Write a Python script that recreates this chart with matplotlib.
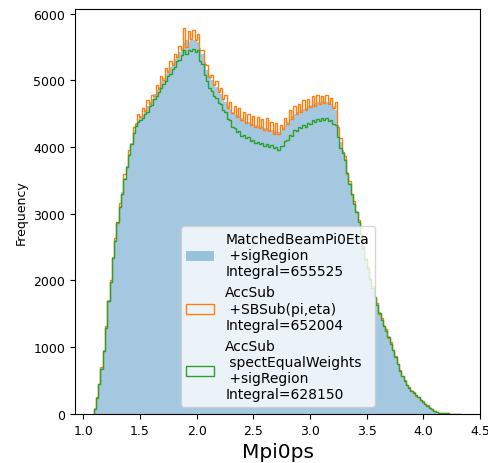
import matplotlib
matplotlib.use('Agg')
import matplotlib.pyplot as plt
import numpy as np

# bin range of the Mpi0ps histograms
x_lo = 1.09
x_hi = 4.33
n_bins = 160

matched = [80, 240, 450, 680, 950, 1300, 1700, 1980, 2350, 2600,
           2880, 3120, 3320, 3540, 3720, 3900, 4060, 4240, 4360, 4420,
           4470, 4500, 4560, 4620, 4680, 4720, 4790, 4850, 4900, 4990,
           5040, 5100, 5160, 5200, 5260, 5320, 5380, 5430, 5480, 5560,
           5600, 5580, 5640, 5600, 5620, 5580, 5480, 5400, 5280, 5150,
           5080, 5000, 4950, 4900, 4850, 4800, 4740, 4680, 4620, 4570,
           4530, 4500, 4480, 4460, 4430, 4410, 4390, 4380, 4360, 4340,
           4330, 4320, 4310, 4300, 4290, 4280, 4270, 4260, 4250, 4240,
           4230, 4250, 4290, 4330, 4380, 4420, 4460, 4500, 4520, 4540,
           4560, 4570, 4590, 4610, 4630, 4650, 4660, 4670, 4680, 4690,
           4690, 4680, 4670, 4650, 4610, 4560, 4330, 4080, 3960, 3820,
           3620, 3460, 3300, 3160, 3040, 2880, 2700, 2500, 2330, 2180,
           2030, 1890, 1760, 1640, 1520, 1420, 1330, 1250, 1160, 1060,
           960, 850, 750, 650, 570, 500, 440, 390, 350, 310,
           280, 250, 215, 180, 150, 120, 95, 70, 45, 25,
           15, 10, 8, 6, 5, 4, 3, 3, 2, 2]

acc_sb = [70, 250, 440, 700, 940, 1320, 1690, 2010, 2330, 2630,
          2860, 3160, 3300, 3590, 3700, 3960, 4040, 4300, 4340, 4500,
          4450, 4580, 4540, 4700, 4650, 4780, 4760, 4930, 4870, 5070,
          5010, 5180, 5130, 5290, 5230, 5400, 5350, 5510, 5450, 5780,
          5500, 5740, 5620, 5760, 5600, 5700, 5460, 5460, 5250, 5230,
          5050, 5080, 4930, 4990, 4830, 4880, 4720, 4780, 4590, 4670,
          4510, 4610, 4450, 4580, 4400, 4520, 4360, 4500, 4330, 4470,
          4300, 4450, 4280, 4420, 4260, 4430, 4240, 4380, 4200, 4360,
          4190, 4330, 4270, 4440, 4350, 4560, 4420, 4620, 4490, 4640,
          4530, 4700, 4560, 4720, 4600, 4760, 4620, 4780, 4650, 4760,
          4660, 4780, 4640, 4740, 4590, 4680, 4300, 4140, 3930, 3870,
          3600, 3490, 3280, 3190, 3020, 2910, 2680, 2520, 2310, 2200,
          2010, 1910, 1740, 1660, 1500, 1440, 1310, 1270, 1140, 1080,
          950, 860, 740, 660, 560, 510, 430, 400, 340, 320,
          270, 255, 210, 185, 145, 125, 90, 72, 43, 27,
          14, 11, 7, 6, 5, 4, 3, 2, 2, 2]

acc_spect = [75, 235, 445, 675, 945, 1290, 1690, 1970, 2340, 2590,
             2870, 3100, 3300, 3520, 3700, 3880, 4040, 4210, 4320, 4370,
             4410, 4430, 4500, 4530, 4610, 4630, 4720, 4760, 4830, 4880,
             4950, 4990, 5070, 5090, 5170, 5200, 5290, 5300, 5380, 5450,
             5400, 5460, 5440, 5470, 5420, 5450, 5290, 5240, 5080, 4990,
             4880, 4840, 4760, 4740, 4660, 4640, 4550, 4520, 4420, 4400,
             4300, 4280, 4230, 4240, 4170, 4180, 4130, 4150, 4090, 4110,
             4060, 4080, 4040, 4060, 4020, 4040, 4000, 4030, 3980, 4000,
             3960, 4010, 4020, 4090, 4100, 4180, 4170, 4250, 4240, 4300,
             4280, 4330, 4300, 4360, 4340, 4400, 4370, 4420, 4390, 4430,
             4400, 4430, 4390, 4410, 4340, 4330, 4150, 3990, 3910, 3800,
             3610, 3450, 3290, 3150, 3030, 2870, 2690, 2490, 2320, 2170,
             2020, 1880, 1750, 1630, 1510, 1410, 1320, 1240, 1150, 1050,
             955, 845, 745, 645, 565, 495, 435, 385, 345, 305,
             275, 245, 210, 178, 148, 118, 93, 68, 44, 24,
             14, 10, 8, 6, 5, 4, 3, 3, 2, 2]

labels = ['MatchedBeamPi0Eta\n +sigRegion\nIntegral=655525',
          'AccSub\n +SBSub(pi,eta)\nIntegral=652004',
          'AccSub\n spectEqualWeights\n +sigRegion\nIntegral=628150']

edges = np.linspace(x_lo, x_hi, n_bins + 1)
centers = 0.5 * (edges[:-1] + edges[1:])

fig = plt.figure(figsize=(4.88, 4.64), dpi=100)
ax = fig.add_axes([0.154, 0.106, 0.83, 0.872])

ax.hist(centers, bins=edges, weights=matched, alpha=0.4, color='C0',
        label=labels[0])
ax.hist(centers, bins=edges, weights=acc_sb, histtype='step', color='C1',
        label=labels[1])
ax.hist(centers, bins=edges, weights=acc_spect, histtype='step', color='C2',
        label=labels[2])

ax.set_xticks(np.arange(1.0, 4.51, 0.5))
ax.set_yticks(np.arange(0, 6001, 1000))
ax.tick_params(labelsize=9)
ax.set_xlabel('Mpi0ps', fontsize=14.5)
ax.set_ylabel('Frequency', fontsize=9)
ax.legend(loc='lower center', fontsize=10)

fig.savefig('out.png', dpi=100)
